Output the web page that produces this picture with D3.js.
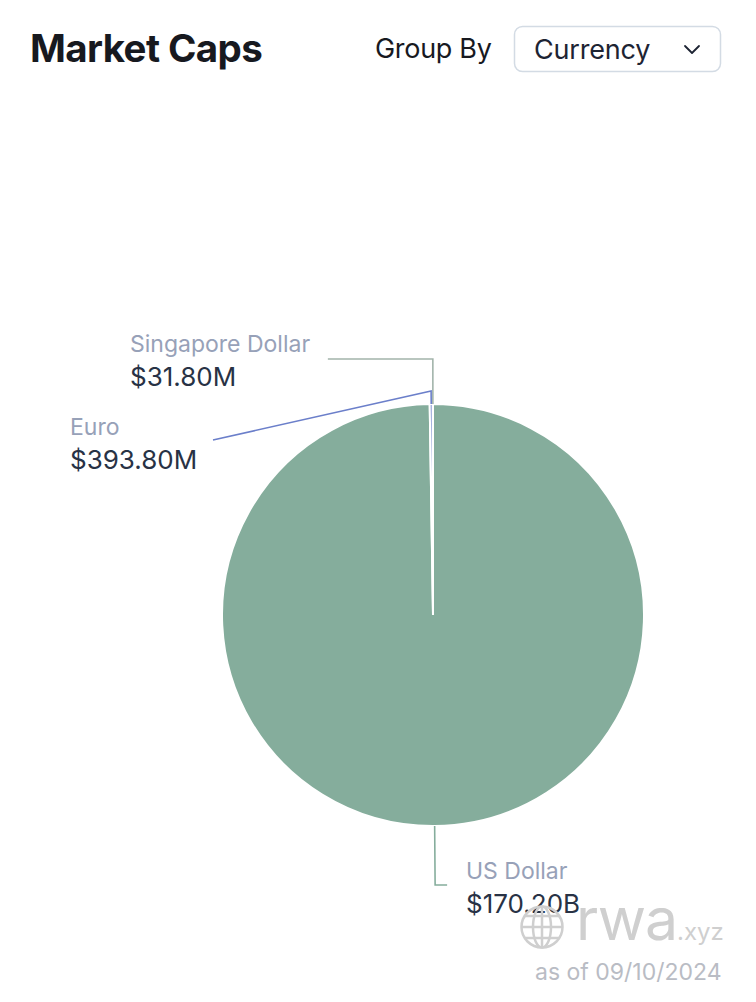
<!DOCTYPE html>
<html><head><meta charset="utf-8">
<script src="https://cdn.jsdelivr.net/npm/d3@7"></script>
<style>
body{margin:0;background:#fff;font-family:Inter,"Helvetica Neue",Arial,sans-serif;}
</style></head>
<body>
<svg id="c" width="756" height="1002"></svg>
<script>
const categories = ["US Dollar", "Euro", "Singapore Dollar"];
const values = [170.2e9, 393.8e6, 31.8e6];
const valueLabels = ["$170.20B", "$393.80M", "$31.80M"];
const colors = ["#85ad9c", "#6b7fca", "#a2b4ab"];

const svg = d3.select("#c");
const cx = 433, cy = 615, R = 211;

// header
svg.append("text").attr("x", 30).attr("y", 62).attr("font-size", 38.5).attr("font-weight", 700)
  .attr("fill", "#17191f").attr("letter-spacing", -0.6).text("Market Caps");
svg.append("text").attr("x", 375).attr("y", 58).attr("font-size", 27).attr("fill", "#17191f")
  .attr("letter-spacing", -0.3).text("Group By");
svg.append("rect").attr("x", 514.5).attr("y", 26.5).attr("width", 206).attr("height", 45).attr("rx", 8)
  .attr("fill", "#fff").attr("stroke", "#d3dbe4").attr("stroke-width", 1.5);
svg.append("text").attr("x", 534).attr("y", 59).attr("font-size", 27).attr("fill", "#1d2433")
  .attr("letter-spacing", -0.2).text("Currency");
svg.append("path").attr("d", "M685,46 L692,53 L699,46").attr("fill", "none").attr("stroke", "#1d2433")
  .attr("stroke-width", 1.8).attr("stroke-linecap", "round").attr("stroke-linejoin", "round");

const data = categories.map((c, i) => ({ name: c, value: values[i], label: valueLabels[i], color: colors[i] }));
const pie = d3.pie().sort(null).value(d => d.value).startAngle(0).endAngle(2 * Math.PI);
const arcs = pie(data);
const arc = d3.arc().innerRadius(0).outerRadius(R);

const g = svg.append("g").attr("transform", `translate(${cx},${cy})`);
g.selectAll("path.slice").data(arcs).join("path").attr("class", "slice")
  .attr("d", arc).attr("fill", d => d.data.color).attr("stroke", "#fff").attr("stroke-width", 2);

function pt(a, r) { return [r * Math.sin(a), -r * Math.cos(a)]; }

const layout = {
  "US Dollar": { r2: R + 59, end: [12, 0], tx: 466, ty: 879 },
  "Euro": { r2: R + 13, endAbs: [213 - cx, 440 - cy], tx: 70, ty: 435 },
  "Singapore Dollar": { r2: R + 45, end: [-105, 0], tx: 130, ty: 352 }
};

arcs.forEach(d => {
  const a = (d.startAngle + d.endAngle) / 2;
  const L = layout[d.data.name];
  const p1 = pt(a, R), p2 = pt(a, L.r2);
  const p3 = L.endAbs ? L.endAbs : [p2[0] + L.end[0], p2[1] + L.end[1]];
  g.append("polyline").attr("points", [p1, p2, p3].map(p => p.join(",")).join(" "))
    .attr("fill", "none").attr("stroke", d.data.color).attr("stroke-width", 1.6);
  svg.append("text").attr("x", L.tx).attr("y", L.ty).attr("font-size", 23).attr("fill", "#97a1b8")
    .text(d.data.name);
  svg.append("text").attr("x", L.tx).attr("y", L.ty + 34).attr("font-size", 26).attr("fill", "#283245")
    .text(d.data.label);
});

// watermark
const wm = svg.append("g").attr("fill", "none").attr("stroke", "#cfcfcf").attr("stroke-width", 2.5);
wm.append("circle").attr("cx", 542).attr("cy", 927).attr("r", 20.5);
wm.append("ellipse").attr("cx", 542).attr("cy", 927).attr("rx", 9).attr("ry", 20.5);
wm.append("line").attr("x1", 542).attr("y1", 906).attr("x2", 542).attr("y2", 948);
wm.append("line").attr("x1", 521).attr("y1", 927).attr("x2", 563).attr("y2", 927);
wm.append("line").attr("x1", 525).attr("y1", 916).attr("x2", 559).attr("y2", 916);
wm.append("line").attr("x1", 525).attr("y1", 938).attr("x2", 559).attr("y2", 938);
svg.append("text").attr("x", 576).attr("y", 940).attr("font-size", 59).attr("fill", "#cfcfcf")
  .attr("letter-spacing", -1).text("rwa");
svg.append("text").attr("x", 677).attr("y", 940).attr("font-size", 24).attr("fill", "#cfcfcf").text(".xyz");
svg.append("text").attr("x", 535).attr("y", 980).attr("font-size", 23).attr("fill", "#b9bcc4").text("as of 09/10/2024");
</script>
</body></html>
